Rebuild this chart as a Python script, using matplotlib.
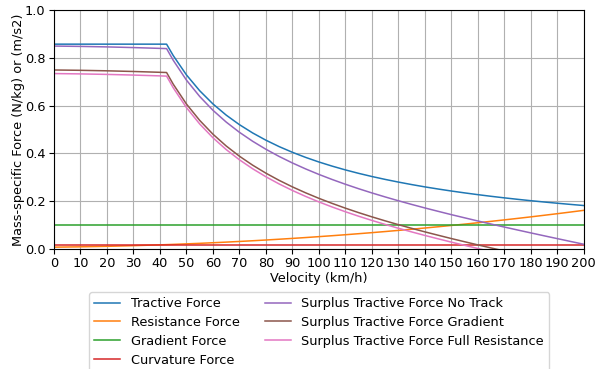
import numpy as np
import matplotlib
matplotlib.use('Agg')
import matplotlib.pyplot as plt

# velocity samples (km/h)
velocity = [0, 10, 20, 30, 40, 42.5, 45, 50, 55, 60, 65, 70, 75, 80, 85, 90, 95, 100,
            105, 110, 115, 120, 125, 130, 135, 140, 145, 150, 155, 160, 165, 170,
            175, 180, 185, 190, 195, 200]

tractive = [0.857, 0.857, 0.857, 0.857, 0.857, 0.857, 0.8094, 0.7284, 0.6622, 0.6070,
            0.5603, 0.5203, 0.4856, 0.4553, 0.4285, 0.4047, 0.3834, 0.3642, 0.3469,
            0.3311, 0.3167, 0.3035, 0.2914, 0.2802, 0.2698, 0.2601, 0.2512, 0.2428,
            0.2350, 0.2276, 0.2207, 0.2142, 0.2081, 0.2023, 0.1969, 0.1917, 0.1868, 0.1821]

resistance = [0.0080, 0.0094, 0.0115, 0.0143, 0.0177, 0.0186, 0.0196, 0.0218, 0.0240,
              0.0265, 0.0291, 0.0319, 0.0348, 0.0379, 0.0412, 0.0446, 0.0482, 0.0520,
              0.0559, 0.0600, 0.0643, 0.0687, 0.0733, 0.0781, 0.0830, 0.0881, 0.0933,
              0.0988, 0.1043, 0.1101, 0.1160, 0.1221, 0.1283, 0.1347, 0.1413, 0.1480,
              0.1549, 0.1620]

gradient = [0.1] * len(velocity)
curvature = [0.015] * len(velocity)

surplus_no_track = [0.8490, 0.8476, 0.8455, 0.8427, 0.8393, 0.8384, 0.7898, 0.7066, 0.6382,
                    0.5805, 0.5312, 0.4884, 0.4508, 0.4174, 0.3873, 0.3601, 0.3352, 0.3122,
                    0.2910, 0.2711, 0.2524, 0.2348, 0.2181, 0.2021, 0.1868, 0.1720, 0.1579,
                    0.1440, 0.1307, 0.1175, 0.1047, 0.0921, 0.0798, 0.0676, 0.0556, 0.0437,
                    0.0319, 0.0201]

surplus_gradient = [0.749, 0.7476, 0.7455, 0.7427, 0.7393, 0.7384, 0.6898, 0.6066, 0.5382,
                    0.4805, 0.4312, 0.3884, 0.3508, 0.3174, 0.2873, 0.2601, 0.2352, 0.2122,
                    0.1910, 0.1711, 0.1524, 0.1348, 0.1181, 0.1021, 0.0868, 0.0720, 0.0579,
                    0.0440, 0.0307, 0.0175, 0.0047, -0.0079, -0.0202, -0.0324, -0.0444,
                    -0.0563, -0.0681, -0.0799]

surplus_full = [0.734, 0.7326, 0.7305, 0.7277, 0.7243, 0.7234, 0.6748, 0.5916, 0.5232,
                0.4655, 0.4162, 0.3734, 0.3358, 0.3024, 0.2723, 0.2451, 0.2202, 0.1972,
                0.1760, 0.1561, 0.1374, 0.1198, 0.1031, 0.0871, 0.0718, 0.0570, 0.0429,
                0.0290, 0.0157, 0.0025, -0.0103, -0.0229, -0.0352, -0.0474, -0.0594,
                -0.0713, -0.0831, -0.0949]

fs = 9.3

fig = plt.figure(figsize=(6, 3.69), dpi=100)
ax = fig.add_axes([0.09, 0.325, 0.883, 0.648])

ax.plot(velocity, tractive, label='Tractive Force', color='tab:blue', lw=1.1)
ax.plot(velocity, resistance, label='Resistance Force', color='tab:orange', lw=1.1)
ax.plot(velocity, gradient, label='Gradient Force', color='tab:green', lw=1.1)
ax.plot(velocity, curvature, label='Curvature Force', color='tab:red', lw=1.1)
ax.plot(velocity, surplus_no_track, label='Surplus Tractive Force No Track', color='tab:purple', lw=1.1)
ax.plot(velocity, surplus_gradient, label='Surplus Tractive Force Gradient', color='tab:brown', lw=1.1)
ax.plot(velocity, surplus_full, label='Surplus Tractive Force Full Resistance', color='tab:pink', lw=1.1)

ax.set_xlim(0, 200)
ax.set_ylim(0, 1.0)
ax.set_xticks(np.arange(0, 201, 10))
ax.set_yticks(np.arange(0, 1.01, 0.2))
ax.tick_params(labelsize=fs, pad=2.5)
ax.grid(True, color='#b0b0b0', lw=0.8)
ax.set_xlabel('Velocity (km/h)', fontsize=fs, labelpad=1)
ax.set_ylabel('Mass-specific Force (N/kg) or (m/s2)', fontsize=fs, labelpad=0)

fig.legend(loc='upper center', bbox_to_anchor=(0.532, 0.2087), ncol=2, fontsize=fs,
           handlelength=2, columnspacing=2.0, labelspacing=0.45, borderaxespad=0)

fig.savefig('out.png', dpi=100)
